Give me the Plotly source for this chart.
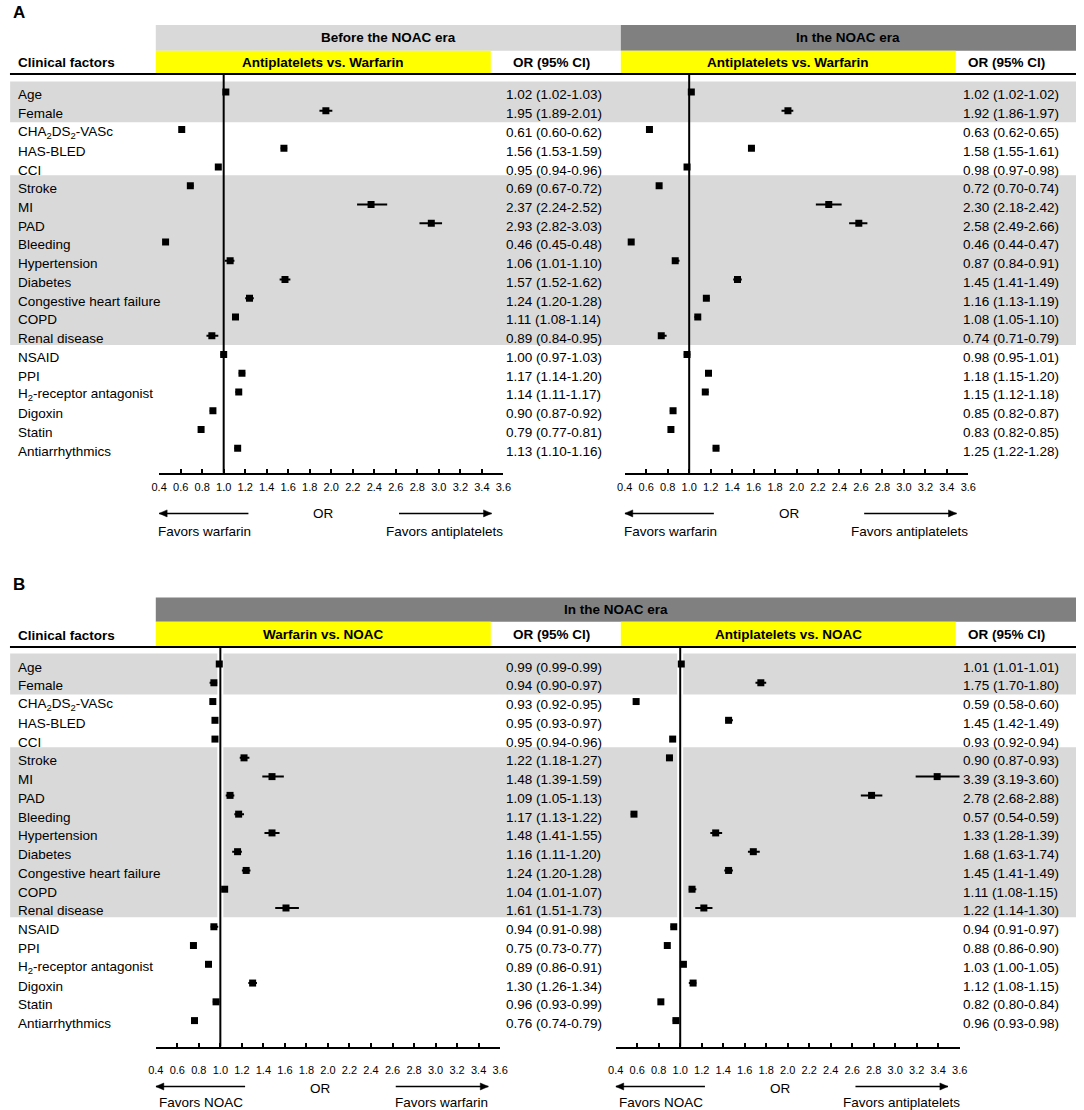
import plotly.graph_objects as go

W, H = 1084, 1110
FONT = "Liberation Sans, Arial, Helvetica, sans-serif"

# ---------------- data ----------------
factors = ["Age", "Female", "CHA<sub>2</sub>DS<sub>2</sub>-VASc", "HAS-BLED", "CCI",
           "Stroke", "MI", "PAD", "Bleeding", "Hypertension", "Diabetes",
           "Congestive heart failure", "COPD", "Renal disease", "NSAID", "PPI",
           "H<sub>2</sub>-receptor antagonist", "Digoxin", "Statin", "Antiarrhythmics"]

# A: Before the NOAC era, antiplatelets vs. warfarin
a1_or = [1.02, 1.95, 0.61, 1.56, 0.95, 0.69, 2.37, 2.93, 0.46, 1.06, 1.57, 1.24, 1.11, 0.89, 1.00, 1.17, 1.14, 0.90, 0.79, 1.13]
a1_lo = [1.02, 1.89, 0.60, 1.53, 0.94, 0.67, 2.24, 2.82, 0.45, 1.01, 1.52, 1.20, 1.08, 0.84, 0.97, 1.14, 1.11, 0.87, 0.77, 1.10]
a1_hi = [1.03, 2.01, 0.62, 1.59, 0.96, 0.72, 2.52, 3.03, 0.48, 1.10, 1.62, 1.28, 1.14, 0.95, 1.03, 1.20, 1.17, 0.92, 0.81, 1.16]

# A: In the NOAC era, antiplatelets vs. warfarin
a2_or = [1.02, 1.92, 0.63, 1.58, 0.98, 0.72, 2.30, 2.58, 0.46, 0.87, 1.45, 1.16, 1.08, 0.74, 0.98, 1.18, 1.15, 0.85, 0.83, 1.25]
a2_lo = [1.02, 1.86, 0.62, 1.55, 0.97, 0.70, 2.18, 2.49, 0.44, 0.84, 1.41, 1.13, 1.05, 0.71, 0.95, 1.15, 1.12, 0.82, 0.82, 1.22]
a2_hi = [1.02, 1.97, 0.65, 1.61, 0.98, 0.74, 2.42, 2.66, 0.47, 0.91, 1.49, 1.19, 1.10, 0.79, 1.01, 1.20, 1.18, 0.87, 0.85, 1.28]

# B: In the NOAC era, warfarin vs. NOAC
b1_or = [0.99, 0.94, 0.93, 0.95, 0.95, 1.22, 1.48, 1.09, 1.17, 1.48, 1.16, 1.24, 1.04, 1.61, 0.94, 0.75, 0.89, 1.30, 0.96, 0.76]
b1_lo = [0.99, 0.90, 0.92, 0.93, 0.94, 1.18, 1.39, 1.05, 1.13, 1.41, 1.11, 1.20, 1.01, 1.51, 0.91, 0.73, 0.86, 1.26, 0.93, 0.74]
b1_hi = [0.99, 0.97, 0.95, 0.97, 0.96, 1.27, 1.59, 1.13, 1.22, 1.55, 1.20, 1.28, 1.07, 1.73, 0.98, 0.77, 0.91, 1.34, 0.99, 0.79]

# B: In the NOAC era, antiplatelets vs. NOAC
b2_or = [1.01, 1.75, 0.59, 1.45, 0.93, 0.90, 3.39, 2.78, 0.57, 1.33, 1.68, 1.45, 1.11, 1.22, 0.94, 0.88, 1.03, 1.12, 0.82, 0.96]
b2_lo = [1.01, 1.70, 0.58, 1.42, 0.92, 0.87, 3.19, 2.68, 0.54, 1.28, 1.63, 1.41, 1.08, 1.14, 0.91, 0.86, 1.00, 1.08, 0.80, 0.93]
b2_hi = [1.01, 1.80, 0.60, 1.49, 0.94, 0.93, 3.60, 2.88, 0.59, 1.39, 1.74, 1.49, 1.15, 1.30, 0.97, 0.90, 1.05, 1.15, 0.84, 0.98]

tick_labels = ["0.4", "0.6", "0.8", "1.0", "1.2", "1.4", "1.6", "1.8", "2.0",
               "2.2", "2.4", "2.6", "2.8", "3.0", "3.2", "3.4", "3.6"]
tick_vals = [float(t) for t in tick_labels]

# shaded row groups (first, last row index)
shaded_groups = [(0, 1), (5, 13)]


def fx(px):
    return px / W


def fy(py):
    return 1 - py / H


fig = go.Figure()

BLACK = "black"
LGRAY = "#d9d9d9"
DGRAY = "#808080"
YELLOW = "#ffff00"

panels = [
    dict(xid="x", yid="y", orv=a1_or, lo=a1_lo, hi=a1_hi, xdom=(153.4, 502.8),
         ydom=(74, 472.8), yr=(20.31, -0.96), orx=554, halo=False,
         favl="Favors warfarin", favr="Favors antiplatelets",
         arr_y=513.4, or_y=514, fav_y=531.4, standoff=3),
    dict(xid="x2", yid="y2", orv=a2_or, lo=a2_lo, hi=a2_hi, xdom=(626, 974.7),
         ydom=(74, 472.8), yr=(20.31, -0.96), orx=1018, halo=False,
         favl="Favors warfarin", favr="Favors antiplatelets",
         arr_y=513.4, or_y=514, fav_y=531.4, standoff=3),
    dict(xid="x3", yid="y3", orv=b1_or, lo=b1_lo, hi=b1_hi, xdom=(150, 499.5),
         ydom=(647, 1046.5), yr=(20.38, -0.906), orx=554, halo=True,
         favl="Favors NOAC", favr="Favors warfarin",
         arr_y=1086.5, or_y=1088, fav_y=1102, standoff=12),
    dict(xid="x4", yid="y4", orv=b2_or, lo=b2_lo, hi=b2_hi, xdom=(616.8, 966),
         ydom=(647, 1046.5), yr=(20.38, -0.906), orx=1018, halo=True,
         favl="Favors NOAC", favr="Favors antiplatelets",
         arr_y=1086.5, or_y=1088, fav_y=1102, standoff=12),
]

# arrow spans on the OR scale (tail, head)
arrow_spans = [(1.23, 0.4), (2.63, 3.49)]

shapes = []
annotations = []
rows = list(range(len(factors)))


def rect(x0, x1, y0, y1, color):
    shapes.append(dict(type="rect", xref="paper", yref="paper",
                       x0=fx(x0), x1=fx(x1), y0=fy(y1), y1=fy(y0),
                       fillcolor=color, line=dict(width=0), layer="below"))


def label(text, x, y, anchor="center", size=13.5, bold=True):
    annotations.append(dict(x=fx(x), y=fy(y), xref="paper", yref="paper",
                            text=f"<b>{text}</b>" if bold else text,
                            showarrow=False, xanchor=anchor, yanchor="middle",
                            font=dict(family=FONT, size=size, color=BLACK)))


def hline(y):
    shapes.append(dict(type="line", xref="paper", yref="paper", x0=fx(2), x1=1,
                       y0=fy(y), y1=fy(y), line=dict(color=BLACK, width=2)))


# row labels and shaded bands for each panel (drawn first, underneath)
for yid in ["y", "y3"]:
    for (a, b) in shaded_groups:
        shapes.append(dict(type="rect", xref="paper", yref=yid, x0=0.002, x1=1,
                           y0=a - 0.56, y1=b + 0.5 + (0.12 if a == 0 else 0.0),
                           fillcolor=LGRAY, line=dict(width=0), layer="below"))
    for i in rows:
        annotations.append(dict(
            x=fx(8), xref="paper", y=i, yref=yid, yshift=-3, text=factors[i],
            showarrow=False, xanchor="left", yanchor="middle",
            font=dict(family=FONT, size=13.5, color=BLACK)))

for k, p in enumerate(panels):
    n = k + 1
    sfx = "" if n == 1 else str(n)
    fig.add_trace(go.Scatter(
        x=p["orv"], y=rows, mode="markers", xaxis=p["xid"], yaxis=p["yid"],
        marker=dict(symbol="square", size=7, color=BLACK),
        error_x=dict(type="data", symmetric=False,
                     array=[h - o for h, o in zip(p["hi"], p["orv"])],
                     arrayminus=[o - l for o, l in zip(p["orv"], p["lo"])],
                     thickness=2, width=0, color=BLACK),
        cliponaxis=False, showlegend=False, hoverinfo="skip"))

    fig.update_layout(**{
        "xaxis" + sfx: dict(domain=[fx(p["xdom"][0]), fx(p["xdom"][1])], anchor=p["yid"],
                            range=[0.4, 3.6], tickvals=tick_vals, ticktext=tick_labels,
                            ticks="inside", ticklen=4, tickwidth=2, tickcolor=BLACK,
                            showline=True, linewidth=2, linecolor=BLACK,
                            showgrid=False, zeroline=False, ticklabelstandoff=p["standoff"],
                            fixedrange=True,
                            tickfont=dict(family=FONT, size=11, color=BLACK)),
        "yaxis" + sfx: dict(domain=[fy(p["ydom"][1]), fy(p["ydom"][0])], anchor=p["xid"],
                            range=list(p["yr"]), visible=False, showgrid=False,
                            zeroline=False, fixedrange=True),
    })

    # reference line at OR = 1 (with a thin white gap in panel B bands)
    if p["halo"]:
        shapes.append(dict(type="line", xref=p["xid"], yref=p["yid"] + " domain",
                           x0=1, x1=1, y0=0, y1=0.985, layer="below",
                           line=dict(color="white", width=6)))
    shapes.append(dict(type="line", xref=p["xid"], yref=p["yid"] + " domain",
                       x0=1, x1=1, y0=0, y1=1, layer="below",
                       line=dict(color=BLACK, width=2)))

    # OR text column
    for i in rows:
        annotations.append(dict(
            x=fx(p["orx"]), xref="paper", y=i, yref=p["yid"], yshift=-3,
            text=f"{p['orv'][i]:.2f} ({p['lo'][i]:.2f}-{p['hi'][i]:.2f})",
            showarrow=False, xanchor="center", yanchor="middle",
            font=dict(family=FONT, size=13.5, color=BLACK)))

    # arrows: shaft + pixel-sized triangular head
    for (x0, x1) in arrow_spans:
        shapes.append(dict(type="line", xref=p["xid"], yref="paper",
                           x0=x0, x1=x1, y0=fy(p["arr_y"]), y1=fy(p["arr_y"]),
                           line=dict(color=BLACK, width=1.5)))
        d = 8 if x1 < x0 else -8
        shapes.append(dict(type="path", xref=p["xid"], yref="paper",
                           xsizemode="pixel", ysizemode="pixel",
                           xanchor=x1, yanchor=fy(p["arr_y"]),
                           path=f"M 0,0 L {d},3.5 L {d},-3.5 Z",
                           fillcolor=BLACK, line=dict(color=BLACK, width=0.5)))
    annotations.append(dict(x=1.93, y=fy(p["or_y"]), xref=p["xid"], yref="paper",
                            text="OR", showarrow=False, yanchor="middle",
                            font=dict(family=FONT, size=13.5, color=BLACK)))
    annotations.append(dict(x=0.824, y=fy(p["fav_y"]), xref=p["xid"], yref="paper",
                            text=p["favl"], showarrow=False, yanchor="middle",
                            font=dict(family=FONT, size=13.5, color=BLACK)))
    annotations.append(dict(x=3.055, y=fy(p["fav_y"]), xref=p["xid"], yref="paper",
                            text=p["favr"], showarrow=False, yanchor="middle",
                            font=dict(family=FONT, size=13.5, color=BLACK)))

# ---- Panel A header ----
label("A", 3, 13, anchor="left", size=17)
rect(150, 622, 25, 50.7, LGRAY)
rect(622, 1084, 25, 50.7, DGRAY)
rect(150, 490, 50.7, 74, YELLOW)
rect(622, 962, 50.7, 74, YELLOW)
label("Before the NOAC era", 386, 38)
label("In the NOAC era", 853, 38)
label("Clinical factors", 8, 63, anchor="left")
label("Antiplatelets vs. Warfarin", 320, 62.5)
label("Antiplatelets vs. Warfarin", 792, 62.5)
label("OR (95% CI)", 551.5, 62.5)
label("OR (95% CI)", 1013, 62.5)
hline(74)

# ---- Panel B header ----
label("B", 3, 584, anchor="left", size=17)
rect(150, 1084, 597.6, 621.7, DGRAY)
rect(150, 490, 621.7, 646, YELLOW)
rect(622, 962, 621.7, 646, YELLOW)
label("In the NOAC era", 617, 609.5)
label("Clinical factors", 8, 635.5, anchor="left")
label("Warfarin vs. NOAC", 320, 634.5)
label("Antiplatelets vs. NOAC", 792, 634.5)
label("OR (95% CI)", 551.5, 634.5)
label("OR (95% CI)", 1013, 634.5)
hline(647)

fig.update_layout(
    width=W, height=H, autosize=False, margin=dict(l=0, r=0, t=0, b=0, pad=0),
    paper_bgcolor="white", plot_bgcolor="rgba(0,0,0,0)",
    shapes=shapes, annotations=annotations, showlegend=False,
    font=dict(family=FONT, size=13.5, color=BLACK),
)

post = ("document.body.style.margin='0';document.body.style.padding='0';"
        "document.body.style.overflow='hidden';"
        "document.documentElement.style.overflow='hidden';")

fig.write_html("out.html", config={"displayModeBar": False}, post_script=post)
